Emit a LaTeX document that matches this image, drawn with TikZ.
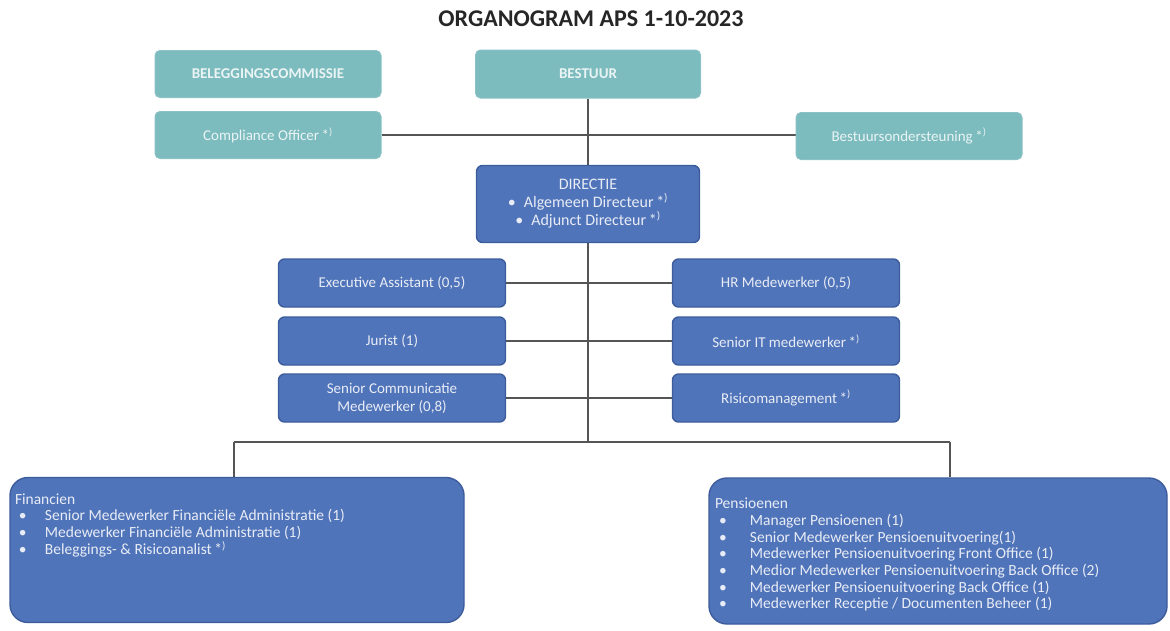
\documentclass[tikz,border=0pt]{standalone}
\usepackage{fontspec}
\setmainfont{Carlito}
\usetikzlibrary{backgrounds}
\definecolor{tealbox}{HTML}{7CBBBE}
\definecolor{tealedge}{HTML}{8CC2C5}
\definecolor{bluebox}{HTML}{5074B9}
\definecolor{blueedge}{HTML}{3D5C9C}
\definecolor{linegray}{HTML}{555555}
\definecolor{tealtext}{HTML}{EAF4F4}
\definecolor{bluetext}{HTML}{E8ECF6}
\newcommand\fnm{\,*\textsuperscript{)}}
\newlength\bulletind
\newcommand\bitem[1]{\par\makebox[\bulletind][l]{\hspace{4pt}•}#1}
\tikzset{
  tealnode/.style={draw=tealedge, line width=1pt, fill=tealbox, rounded corners=5pt,
    minimum width=226pt, minimum height=47pt, inner sep=0pt, text=tealtext,
    font=\fontsize{15}{17}\selectfont},
  bluenode/.style={draw=blueedge, line width=1.4pt, fill=bluebox, rounded corners=6pt,
    minimum width=227pt, minimum height=48pt, inner sep=0pt, text=bluetext,
    font=\fontsize{15}{18}\selectfont, align=center},
  bignode/.style={draw=blueedge, line width=1.4pt, fill=bluebox, rounded corners=18pt,
    inner sep=0pt, text=bluetext, font=\fontsize{15.5}{16.7}\selectfont},
  conn/.style={draw=linegray, line width=1.1pt},
}
\begin{document}
\begin{tikzpicture}[x=1pt,y=-1pt]
\useasboundingbox (0,0) rectangle (1170,630);

\node[font=\bfseries\fontsize{24}{28}\selectfont, text=black!85] (title) at (591,19) {ORGANOGRAM APS 1-10-2023};

\node[tealnode, font=\bfseries\fontsize{15}{17}\selectfont] (beleg) at (268,74) {BELEGGINGSCOMMISSIE};
\node[tealnode, font=\bfseries\fontsize{15}{17}\selectfont, minimum width=225pt, minimum height=48pt] (bestuur) at (588,74) {BESTUUR};
\node[tealnode] (compl) at (268,135) {Compliance Officer\fnm};
\node[tealnode] (bond) at (909,136) {Bestuursondersteuning\fnm};

\node[bluenode, minimum width=223pt, minimum height=77pt, font=\fontsize{16}{18}\selectfont] (dir) at (588,204)
  {DIRECTIE\\ •\enspace Algemeen Directeur\fnm\\ •\enspace Adjunct Directeur\fnm};

\node[bluenode] (exec) at (392,283) {Executive Assistant (0,5)};
\node[bluenode] (hr) at (786,283) {HR Medewerker (0,5)};
\node[bluenode] (jur) at (392,341) {Jurist (1)};
\node[bluenode] (sit) at (786,341) {Senior IT medewerker\fnm};
\node[bluenode] (scm) at (392,398) {Senior Communicatie\\ Medewerker (0,8)};
\node[bluenode] (risk) at (786,398) {Risicomanagement\fnm};

\node[bignode] (fin) at (237,550) {\parbox[t][145pt][t]{454pt}{\setlength\bulletind{30pt}\leftskip=5pt\vspace*{16pt}%
  Financien
  \bitem{Senior Medewerker Financiële Administratie (1)}
  \bitem{Medewerker Financiële Administratie (1)}
  \bitem{Beleggings- \& Risicoanalist\fnm}}};

\node[bignode] (pens) at (938,551) {\parbox[t][146pt][t]{458pt}{\setlength\bulletind{35pt}\leftskip=6pt\vspace*{20pt}%
  Pensioenen
  \bitem{Manager Pensioenen (1)}
  \bitem{Senior Medewerker Pensioenuitvoering(1)}
  \bitem{Medewerker Pensioenuitvoering Front Office (1)}
  \bitem{Medior Medewerker Pensioenuitvoering Back Office (2)}
  \bitem{Medewerker Pensioenuitvoering Back Office (1)}
  \bitem{Medewerker Receptie / Documenten Beheer (1)}}};

\coordinate (split) at (588,442);
\coordinate (finturn) at (234,442);
\coordinate (pensturn) at (950,442);

\begin{scope}[on background layer]
  \fill[white] (0,0) rectangle (1170,630);
  \draw[conn] (bestuur.south) -- (dir.north);
  \draw[conn] (compl.east) -- (bond.west |- compl.east);
  \draw[conn] (dir.south) -- (split);
  \draw[conn] (exec.east) -- (hr.west);
  \draw[conn] (jur.east) -- (sit.west);
  \draw[conn] (scm.east) -- (risk.west);
  \draw[conn] (finturn) -- (pensturn);
  \draw[conn] (finturn) -- (finturn |- fin.north);
  \draw[conn] (pensturn) -- (pensturn |- pens.north);
\end{scope}
\end{tikzpicture}
\end{document}
